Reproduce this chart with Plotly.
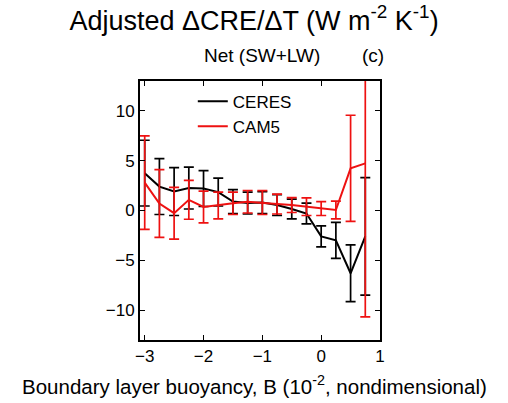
import plotly.graph_objects as go

x_vals = [-3.0, -2.75, -2.5, -2.25, -2.0, -1.75, -1.5, -1.25, -1.0, -0.75, -0.5, -0.25, 0.0, 0.25, 0.5, 0.75]
ceres = [3.75, 2.4, 1.9, 2.25, 2.2, 1.85, 0.9, 0.75, 0.8, 0.55, 0.15, -0.3, -2.6, -3.0, -6.3, -2.6]
ceres_err = [3.3, 2.8, 2.4, 2.1, 1.8, 1.4, 1.2, 1.1, 1.1, 1.05, 1.0, 1.05, 1.05, 1.8, 2.85, 5.9]
cam5 = [2.8, 0.7, -0.27, 1.07, 0.35, 0.5, 0.72, 0.88, 0.8, 0.65, 0.55, 0.38, 0.2, 0.05, 4.23, 4.73]
cam5_err = [4.7, 3.4, 2.6, 1.95, 1.6, 1.35, 1.12, 1.13, 1.2, 1.0, 0.75, 0.88, 0.7, 0.9, 5.33, 15.4]

title_text = "Adjusted ΔCRE/ΔT (W m<sup>-2</sup> K<sup>-1</sup>)"
subtitle_text = "Net (SW+LW)"
panel_label = "(c)"
x_title = "Boundary layer buoyancy, B (10<sup>-2</sup>, nondimensional)"
x_ticks = [-3, -2, -1, 0, 1]
y_ticks = [-10, -5, 0, 5, 10]

FONT = "Liberation Sans, Arial, sans-serif"

fig = go.Figure()
fig.add_trace(go.Scatter(
    x=x_vals, y=ceres, mode="lines", name="CERES",
    line=dict(color="black", width=2),
    error_y=dict(type="data", array=ceres_err, color="black", thickness=1.7, width=5),
))
fig.add_trace(go.Scatter(
    x=x_vals, y=cam5, mode="lines", name="CAM5",
    line=dict(color="#ee1111", width=2),
    error_y=dict(type="data", array=cam5_err, color="#ee1111", thickness=1.7, width=5),
))

axis_common = dict(
    showline=True, linecolor="black", linewidth=2, mirror="ticks",
    ticks="inside", ticklen=5, tickwidth=1.3, tickcolor="black",
    showgrid=False, zeroline=False,
    tickfont=dict(family=FONT, size=17, color="black"),
)

fig.update_layout(
    width=508, height=403,
    margin=dict(l=140, r=128, t=81, b=63),
    paper_bgcolor="white", plot_bgcolor="white",
    showlegend=True,
    legend=dict(
        x=0.22, y=0.99, xanchor="left", yanchor="top",
        bgcolor="rgba(0,0,0,0)", font=dict(family=FONT, size=17, color="black"),
        tracegroupgap=0, itemwidth=30,
    ),
    xaxis=dict(range=[-3.08, 1.0], tickvals=x_ticks, ticktext=["−3", "−2", "−1", "0", "1"], **axis_common),
    yaxis=dict(range=[-13, 13], tickvals=y_ticks, ticktext=["−10", "−5", "0", "5", "10"], **axis_common),
    title=dict(text=title_text, x=0.5, xanchor="center", y=0.95, yanchor="middle",
               font=dict(family=FONT, size=27, color="black")),
    annotations=[
        dict(text=subtitle_text, xref="paper", yref="paper", x=0.508, y=1.1,
             xanchor="center", yanchor="middle", showarrow=False,
             font=dict(family=FONT, size=19, color="black")),
        dict(text=panel_label, xref="paper", yref="paper", x=0.97, y=1.1,
             xanchor="center", yanchor="middle", showarrow=False,
             font=dict(family=FONT, size=19, color="black")),
        dict(text=x_title, xref="paper", yref="paper", x=0.475, y=-0.172,
             xanchor="center", yanchor="middle", showarrow=False,
             font=dict(family=FONT, size=20.5, color="black")),
    ],
)

fig.write_html("out.html")
